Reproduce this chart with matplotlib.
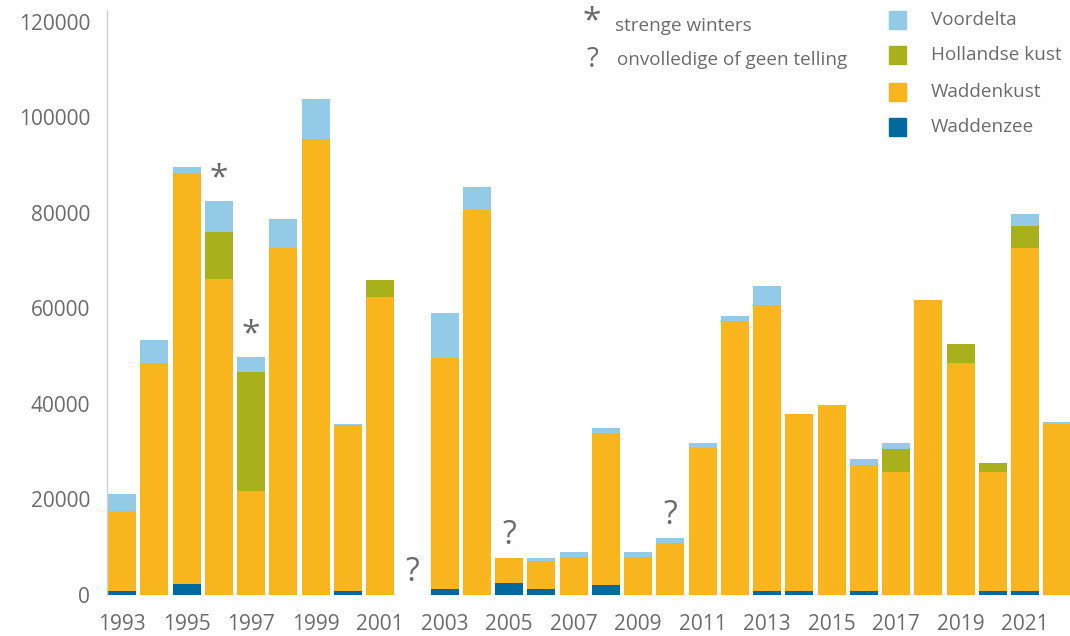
import matplotlib
matplotlib.use("Agg")
import matplotlib.pyplot as plt
import numpy as np

years = list(range(1993, 2023))
waddenzee = [800, 0, 2300, 0, 0, 0, 0, 900, 0, 0,
             1200, 0, 2500, 1200, 0, 2000, 0, 0, 0, 0,
             800, 800, 0, 800, 0, 0, 0, 800, 800, 0]
waddenkust = [16800, 48500, 86100, 66200, 21800, 72700, 95400, 34600, 62400, 0,
              48500, 80600, 5200, 5900, 8000, 31900, 8000, 10900, 30800, 57400,
              59900, 37100, 39800, 26400, 25800, 61800, 48600, 25000, 71900, 35800]
hollandse_kust = [0, 0, 0, 9800, 24900, 0, 0, 0, 3600, 0,
                  0, 0, 0, 0, 0, 0, 0, 0, 0, 0,
                  0, 0, 0, 0, 4800, 0, 4000, 1800, 4600, 0]
voordelta = [3600, 4900, 1200, 6500, 3100, 6000, 8500, 300, 0, 0,
             9400, 4800, 0, 600, 1000, 1100, 1000, 1000, 1000, 1000,
             4000, 0, 0, 1300, 1200, 0, 0, 0, 2500, 400]
strenge_winters = [1996, 1997]
onvolledig = [2002, 2005, 2010]
xtick_years = list(range(1993, 2022, 2))
yticks = [0, 20000, 40000, 60000, 80000, 100000, 120000]

series = [("Waddenzee", waddenzee, "#00699e"),
          ("Waddenkust", waddenkust, "#f9b51e"),
          ("Hollandse kust", hollandse_kust, "#a8b01c"),
          ("Voordelta", voordelta, "#93cae8")]

txt = "#6b6b6b"
plt.rcParams['font.family'] = ['Open Sans', 'DejaVu Sans']

fig = plt.figure(figsize=(10.7, 6.36), dpi=100)
ax = fig.add_axes([107/1070, 41/636, 963/1070, 585/636])

x = np.array(years)
bottom = np.zeros(len(years))
for name, vals, col in series:
    v = np.array(vals, dtype=float)
    ax.bar(x, v, width=0.87, bottom=bottom, color=col, linewidth=0)
    bottom += v
totals = bottom

ax.set_xlim(1992.53, 2022.39)
ax.set_ylim(0, 122500)
ax.set_yticks(yticks)
ax.set_yticklabels([str(t) for t in yticks], fontsize=15, color=txt)
ax.set_xticks(xtick_years)
ax.set_xticklabels([str(t) for t in xtick_years], fontsize=15, color=txt)
ax.tick_params(axis='y', length=0, pad=12)
ax.tick_params(axis='x', length=0, pad=14)
for s in ['top', 'right', 'bottom']:
    ax.spines[s].set_visible(False)
ax.spines['left'].set_color('#d0d0d0')
ax.spines['left'].set_linewidth(1)

for yr in strenge_winters:
    i = years.index(yr)
    ax.text(yr, totals[i] + 1200, "*", ha='center', va='bottom', fontsize=24, color=txt)
for yr in onvolledig:
    i = years.index(yr)
    ax.text(yr, totals[i] + 1200, "?", ha='center', va='bottom', fontsize=23, color=txt)

# legend (right)
leg_items = [("Voordelta", "#93cae8"), ("Hollandse kust", "#a8b01c"),
             ("Waddenkust", "#f9b51e"), ("Waddenzee", "#00699e")]
ys = [20, 55, 92, 127]
for (name, col), yp in zip(leg_items, ys):
    fig.patches.append(plt.Rectangle((889/1070, 1 - (yp + 8.5)/636), 17/1070, 17/636,
                                     transform=fig.transFigure, color=col, figure=fig))
    fig.text(931/1070, 1 - yp/636, name, fontsize=13.6, color=txt, va='center', ha='left')

fig.text(592/1070, 1 - 22/636, "*", fontsize=24, color=txt, va='center', ha='center')
fig.text(615/1070, 1 - 26/636, "strenge winters", fontsize=13.6, color=txt, va='center', ha='left')
fig.text(593/1070, 1 - 60/636, "?", fontsize=20, color=txt, va='center', ha='center')
fig.text(617/1070, 1 - 60/636, "onvolledige of geen telling", fontsize=13.6, color=txt, va='center', ha='left')

fig.savefig("out.png", dpi=100)
